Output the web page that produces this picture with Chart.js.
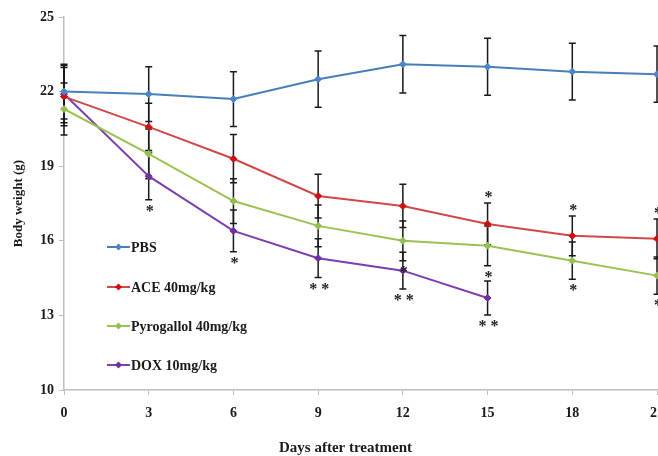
<!DOCTYPE html>
<html>
<head>
<meta charset="utf-8">
<script src="https://cdn.jsdelivr.net/npm/chart.js@4.4.0/dist/chart.umd.min.js"></script>
<style>
  html, body { margin: 0; padding: 0; background: #fff; overflow: hidden; }
  #wrap { width: 680px; height: 456px; position: relative; }
</style>
</head>
<body>
<div id="wrap"><canvas id="c"></canvas></div>
<script>
// ---- data ----
const days = ['0', '3', '6', '9', '12', '15', '18', '21'];
const yTicks = [10, 13, 16, 19, 22, 25];

const pbs      = [22.0, 21.9, 21.7, 22.5, 23.1, 23.0, 22.8, 22.7];
const pbsErr   = [1.1, 1.1, 1.1, 1.13, 1.16, 1.15, 1.14, 1.13];

const ace      = [21.8, 20.58, 19.3, 17.8, 17.4, 16.68, 16.2, 16.08];
const aceErr   = [1.17, 0.95, 0.97, 0.88, 0.87, 0.84, 0.8, 0.8];
const aceSig   = ['', '', '', '', '', '*', '*', '*'];

const pyro     = [21.3, 19.5, 17.6, 16.6, 16.0, 15.8, 15.2, 14.6];
const pyroErr  = [1.05, 1.0, 0.9, 0.84, 0.8, 0.8, 0.75, 0.75];
const pyroSig  = ['', '', '', '', '*', '*', '*', '*'];

const dox      = [21.9, 18.6, 16.4, 15.3, 14.8, 13.7];
const doxErr   = [1.15, 0.95, 0.84, 0.78, 0.74, 0.68];
const doxSig   = ['', '*', '*', '**', '**', '**'];

const seriesNames = ['PBS', 'ACE 40mg/kg', 'Pyrogallol 40mg/kg', 'DOX 10mg/kg'];
const lineColors   = ['#4a7ebb', '#d04848', '#9bc252', '#7a3fb0'];
const markerColors = ['#4a86c8', '#cc1010', '#92c050', '#7030a0'];

const SERIF = '"Liberation Serif", "Times New Roman", serif';

function ds(i, data, err, sig, sigPos) {
  return {
    label: seriesNames[i],
    data: data,
    errors: err,
    sig: sig,
    sigPos: sigPos,
    borderColor: lineColors[i],
    backgroundColor: markerColors[i],
    pointBackgroundColor: markerColors[i],
    pointBorderColor: markerColors[i],
    pointStyle: 'rectRot',
    pointRadius: 3.5,
    pointBorderWidth: 1,
    borderWidth: 2,
    tension: 0,
    fill: false
  };
}

const errorBarPlugin = {
  id: 'errorBars',
  beforeDatasetsDraw(chart) {
    const ctx = chart.ctx;
    const x = chart.scales.x, y = chart.scales.y;
    ctx.save();
    ctx.strokeStyle = '#1a1a1a';
    ctx.lineWidth = 1.5;
    chart.data.datasets.forEach(d => {
      d.data.forEach((v, i) => {
        const e = d.errors[i];
        const px = x.getPixelForValue(i);
        const top = y.getPixelForValue(v + e);
        const bot = y.getPixelForValue(v - e);
        ctx.beginPath();
        ctx.moveTo(px, top); ctx.lineTo(px, bot);
        ctx.moveTo(px - 3.5, top); ctx.lineTo(px + 3.5, top);
        ctx.moveTo(px - 3.5, bot); ctx.lineTo(px + 3.5, bot);
        ctx.stroke();
      });
    });
    ctx.restore();
  },
  afterDatasetsDraw(chart) {
    const ctx = chart.ctx;
    const x = chart.scales.x, y = chart.scales.y;
    const area = chart.chartArea;
    ctx.save();
    ctx.fillStyle = '#222';
    ctx.font = 'bold 16px ' + SERIF;
    ctx.textAlign = 'center';
    ctx.textBaseline = 'middle';
    chart.data.datasets.forEach(d => {
      if (!d.sig) return;
      d.data.forEach((v, i) => {
        const s = d.sig[i];
        if (!s) return;
        const e = d.errors[i];
        const px = x.getPixelForValue(i);
        let py;
        if (d.sigPos === 'above') py = y.getPixelForValue(v + e) - 5;
        else py = y.getPixelForValue(v - e) + 12;
        ctx.fillText(s.split('').join(' '), px + 1, py);
      });
    });
    // legend inside plot
    const lx0 = area.left + 43, lx1 = area.left + 66;
    const rows = [247, 287, 326, 365];
    chart.data.datasets.forEach((d, k) => {
      const ly = area.top + (rows[k] - 17);
      ctx.strokeStyle = d.borderColor;
      ctx.lineWidth = 2;
      ctx.beginPath(); ctx.moveTo(lx0, ly); ctx.lineTo(lx1, ly); ctx.stroke();
      const mx = (lx0 + lx1) / 2;
      ctx.fillStyle = d.backgroundColor;
      ctx.beginPath();
      ctx.moveTo(mx, ly - 3.5); ctx.lineTo(mx + 3.5, ly); ctx.lineTo(mx, ly + 3.5); ctx.lineTo(mx - 3.5, ly);
      ctx.closePath(); ctx.fill();
      ctx.fillStyle = '#1a1a1a';
      ctx.font = 'bold 14px ' + SERIF;
      ctx.textAlign = 'left';
      ctx.textBaseline = 'middle';
      ctx.fillText(d.label, lx1 + 1, ly + 1);
    });
    // x title
    ctx.fillStyle = '#1a1a1a';
    ctx.font = 'bold 15px ' + SERIF;
    ctx.textAlign = 'center';
    ctx.textBaseline = 'middle';
    ctx.fillText('Days after treatment', (area.left + area.right) / 2 - 15, area.bottom + 58);
    ctx.restore();
  }
};

new Chart(document.getElementById('c'), {
  type: 'line',
  data: {
    labels: days,
    datasets: [
      ds(0, pbs, pbsErr, null, null),
      ds(1, ace, aceErr, aceSig, 'above'),
      ds(2, pyro, pyroErr, pyroSig, 'below'),
      ds(3, dox, doxErr, doxSig, 'below')
    ]
  },
  options: {
    responsive: true,
    maintainAspectRatio: false,
    animation: false,
    layout: { padding: { top: 17, right: 23, left: 0, bottom: 0 } },
    plugins: { legend: { display: false }, tooltip: { enabled: false } },
    scales: {
      x: {
        type: 'category',
        offset: false,
        grid: { display: true, drawOnChartArea: false, drawTicks: true, tickLength: 5, color: '#c0c0c0' },
        border: { display: true, color: '#c0c0c0', width: 1.5 },
        ticks: { color: '#1a1a1a', font: { family: SERIF, size: 14, weight: 'bold' }, padding: 10, maxRotation: 0, autoSkip: false },
        afterFit(s) { s.height = 66; }
      },
      y: {
        min: 10, max: 25,
        afterBuildTicks(s) { s.ticks = yTicks.map(v => ({ value: v })); },
        grid: { display: true, drawOnChartArea: false, drawTicks: true, tickLength: 5, color: '#c0c0c0' },
        border: { display: true, color: '#c0c0c0', width: 1.5 },
        ticks: { color: '#1a1a1a', font: { family: SERIF, size: 14, weight: 'bold' }, padding: 5 },
        title: { display: true, text: 'Body weight (g)', color: '#1a1a1a', font: { family: SERIF, size: 13, weight: 'bold' }, padding: { top: 11, bottom: 0 } },
        afterFit(s) { s.width = 64; }
      }
    }
  },
  plugins: [errorBarPlugin]
});
</script>
</body>
</html>
